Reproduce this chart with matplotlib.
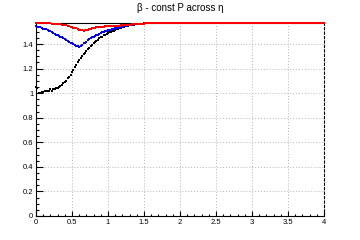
import numpy as np
import matplotlib
matplotlib.use("Agg")
import matplotlib.pyplot as plt
from matplotlib.ticker import MultipleLocator, FixedLocator

plt.rcParams['font.family'] = ['Liberation Sans', 'DejaVu Sans']

# eta bins (width 0.02) from 0 to 4
eta_bins = np.round(np.arange(0.0, 4.0001, 0.02), 2)

# read-off values for eta 0.00 .. 1.58 (80 bins)
black_head = [
    1.05, 1.04, 1.00, 1.00, 1.01, 1.01, 1.02, 1.02, 1.02, 1.02,
    1.03, 1.02, 1.03, 1.03, 1.04, 1.04, 1.05, 1.06, 1.07, 1.08,
    1.09, 1.10, 1.12, 1.13, 1.15, 1.17, 1.19, 1.21, 1.23, 1.25,
    1.27, 1.285, 1.30, 1.315, 1.33, 1.345, 1.36, 1.37, 1.385, 1.395,
    1.405, 1.415, 1.425, 1.435, 1.445, 1.455, 1.46, 1.47, 1.475, 1.48,
    1.49, 1.495, 1.50, 1.505, 1.51, 1.515, 1.52, 1.525, 1.53, 1.533,
    1.537, 1.54, 1.543, 1.546, 1.549, 1.552, 1.554, 1.556, 1.558, 1.56,
    1.562, 1.563, 1.564, 1.566, 1.567, 1.568, 1.569, 1.570, 1.570, 1.571]

blue_head = [
    1.545, 1.54, 1.535, 1.535, 1.53, 1.525, 1.525, 1.52, 1.515, 1.51,
    1.505, 1.50, 1.49, 1.485, 1.475, 1.47, 1.465, 1.46, 1.455, 1.445,
    1.44, 1.43, 1.425, 1.415, 1.41, 1.405, 1.40, 1.39, 1.385, 1.38,
    1.375, 1.385, 1.395, 1.405, 1.41, 1.42, 1.43, 1.44, 1.45, 1.455,
    1.46, 1.465, 1.47, 1.475, 1.48, 1.49, 1.495, 1.50, 1.505, 1.51,
    1.513, 1.515, 1.518, 1.52, 1.525, 1.527, 1.53, 1.533, 1.536, 1.54,
    1.542, 1.545, 1.547, 1.55, 1.552, 1.554, 1.556, 1.558, 1.56, 1.562,
    1.563, 1.564, 1.565, 1.566, 1.567, 1.568, 1.569, 1.570, 1.570, 1.571]

red_head = [
    1.571, 1.571, 1.570, 1.570, 1.570, 1.570, 1.569, 1.569, 1.569, 1.568,
    1.568, 1.567, 1.566, 1.565, 1.564, 1.563, 1.561, 1.560, 1.558, 1.556,
    1.554, 1.552, 1.549, 1.546, 1.542, 1.538, 1.534, 1.530, 1.527, 1.522,
    1.518, 1.515, 1.512, 1.510, 1.512, 1.515, 1.518, 1.521, 1.524, 1.527,
    1.530, 1.532, 1.535, 1.537, 1.538, 1.540, 1.540, 1.542, 1.543, 1.544,
    1.544, 1.545, 1.546, 1.546, 1.547, 1.547, 1.548, 1.549, 1.550, 1.551,
    1.552, 1.553, 1.554, 1.555, 1.556, 1.557, 1.558, 1.559, 1.560, 1.561,
    1.562, 1.563, 1.564, 1.565, 1.566, 1.567, 1.568, 1.569, 1.570, 1.571]

# beyond eta 1.6 every series sits flat at pi/2
tail_value = 1.5708
n_tail = len(eta_bins) - len(black_head)

black = black_head + [tail_value] * n_tail
blue = blue_head + [tail_value] * n_tail
red = red_head + [tail_value] * n_tail

x_ticks = [0, 0.5, 1, 1.5, 2, 2.5, 3, 3.5, 4]
x_labels = ['0', '0.5', '1', '1.5', '2', '2.5', '3', '3.5', '4']
y_ticks = [0, 0.2, 0.4, 0.6, 0.8, 1.0, 1.2, 1.4]
y_labels = ['0', '0.2', '0.4', '0.6', '0.8', '1', '1.2', '1.4']

fig = plt.figure(figsize=(3.6, 2.4), dpi=100)
ax = fig.add_axes([0.1, 0.1, 0.8, 0.804])

ms = 2.0
ax.plot(eta_bins, black, 's', color='black', ms=ms, mew=0, zorder=3, clip_on=False)
ax.plot(eta_bins, blue, 's', color='blue', ms=ms, mew=0, zorder=4, clip_on=False)
ax.plot(eta_bins, red, 's', color='red', ms=ms, mew=0, zorder=5, clip_on=False)

ax.set_xlim(0, 4)
ax.set_ylim(0, 1.5708)

ax.xaxis.set_major_locator(FixedLocator(x_ticks))
ax.set_xticklabels(x_labels)
ax.yaxis.set_major_locator(FixedLocator(y_ticks))
ax.set_yticklabels(y_labels)
ax.xaxis.set_minor_locator(MultipleLocator(0.1))
ax.yaxis.set_minor_locator(MultipleLocator(0.05))

ax.tick_params(axis='both', which='both', direction='in', labelsize=5.5,
               colors='black', width=0.8, pad=2)
ax.tick_params(axis='y', which='major', length=5)
ax.tick_params(axis='y', which='minor', length=2.5)
ax.tick_params(axis='x', which='major', length=3.6)
ax.tick_params(axis='x', which='minor', length=1.8)

ax.grid(True, which='major', color='#b4b4b4', linestyle=(0, (1, 2)), linewidth=0.7)
ax.set_axisbelow(True)

for s in ['left', 'bottom', 'top']:
    ax.spines[s].set_linewidth(0.8)
    ax.spines[s].set_color('black')
ax.spines['right'].set_linestyle((0, (2, 2)))
ax.spines['right'].set_linewidth(0.8)

fig.text(0.5, 0.965, 'β - const P across η', ha='center', va='center', fontsize=7)

fig.savefig('out.png', dpi=100)
